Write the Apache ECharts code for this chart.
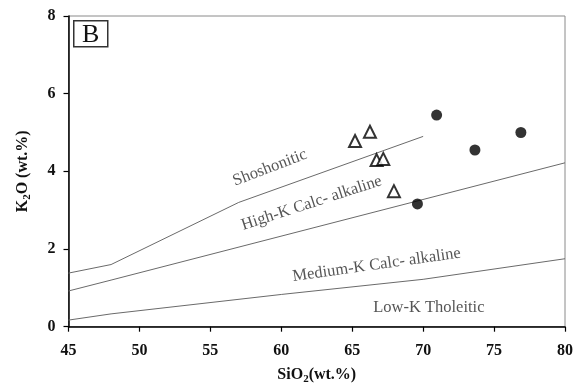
<!DOCTYPE html>
<html>
<head>
<meta charset="utf-8">
<script src="https://cdn.jsdelivr.net/npm/echarts@6/dist/echarts.min.js"></script>
<style>html,body{margin:0;padding:0;background:#fff;}#c{width:573px;height:386px;}</style>
</head>
<body>
<div id="c"></div>
<script>
// Data
var xTicks = [45, 50, 55, 60, 65, 70, 75, 80];
var yTicks = [0, 2, 4, 6, 8];
var shoshoniticLine = [[45, 1.38], [48, 1.6], [57, 3.2], [70, 4.9]];
var highKLine = [[45, 0.92], [48, 1.2], [80, 4.22]];
var mediumKLine = [[45, 0.17], [48, 0.33], [60, 0.83], [70, 1.22], [80, 1.75]];
var triangles = [[65.2, 4.78], [66.25, 5.02], [66.72, 4.29], [67.19, 4.32], [67.94, 3.49]];
var circles = [[70.95, 5.45], [73.65, 4.55], [76.89, 5.0], [69.6, 3.16]];
var regionNames = ['Shoshonitic', 'High-K Calc- alkaline', 'Medium-K Calc- alkaline', 'Low-K Tholeitic'];
var regionAnchors = [[59.2, 4.09], [62.14, 3.18], [66.72, 1.59], [70.4, 0.48]];
var regionRotate = [21, 18, 8, 0];

var serif = '"Liberation Serif", "Times New Roman", serif';
var chart = echarts.init(document.getElementById('c'));

function lineSeries(d) {
  return {type: 'line', data: d, symbol: 'none', silent: true,
    lineStyle: {color: '#6a6a6a', width: 1}, z: 2};
}

var labelSeries = regionNames.map(function (n, i) {
  return {
    type: 'scatter', symbolSize: 0, silent: true, z: 3,
    data: [{value: regionAnchors[i], name: n}],
    label: {show: true, position: 'inside', formatter: n, rotate: regionRotate[i],
      fontFamily: serif, fontSize: 16.5, color: '#2a2a2a'}
  };
});

var nameRich = {
  b: {fontFamily: serif, fontWeight: 'bold', fontSize: 16, color: '#111', lineHeight: 20},
  s: {fontFamily: serif, fontWeight: 'bold', fontSize: 11, color: '#111', lineHeight: 10, verticalAlign: 'bottom'}
};

chart.setOption({
  animation: false,
  grid: {left: 68.5, right: 8, top: 16, bottom: 59.3, show: true, borderColor: '#8a8a8a', borderWidth: 1,
    containLabel: false, outerBoundsMode: 'none'},
  xAxis: {
    type: 'value', min: 45, max: 80, interval: 5,
    name: '{b|SiO}{s|2}{b|(wt.%)}', nameLocation: 'middle', nameGap: 38,
    nameTextStyle: {rich: nameRich},
    axisLine: {lineStyle: {color: '#000', width: 1.5}},
    axisTick: {show: true, inside: false, length: 5, lineStyle: {color: '#000', width: 1.2}},
    axisLabel: {fontFamily: serif, fontWeight: 'bold', fontSize: 16, color: '#111', margin: 16,
      hideOverlap: false, showMinLabel: true, showMaxLabel: true},
    splitLine: {show: false}
  },
  yAxis: {
    type: 'value', min: 0, max: 8, interval: 2,
    name: '{b|K}{s|2}{b|O (wt.%)}', nameLocation: 'middle', nameGap: 36,
    nameTextStyle: {rich: nameRich},
    axisLine: {show: true, lineStyle: {color: '#000', width: 1.5}},
    axisTick: {show: true, inside: false, length: 5, lineStyle: {color: '#000', width: 1.2}},
    axisLabel: {fontFamily: serif, fontWeight: 'bold', fontSize: 16, color: '#111', margin: 13},
    splitLine: {show: false}
  },
  graphic: [{
    type: 'group', left: 73, top: 20,
    children: [
      {type: 'rect', shape: {x: 0, y: 0, width: 34, height: 26},
        style: {fill: '#fff', stroke: '#333', lineWidth: 1.5}},
      {type: 'text', x: 17, y: 14, style: {text: 'B', fontFamily: serif, fontSize: 26,
        fill: '#111', align: 'center', verticalAlign: 'middle'}}
    ]
  }],
  series: [
    lineSeries(shoshoniticLine),
    lineSeries(highKLine),
    lineSeries(mediumKLine),
    {type: 'scatter', data: triangles, symbol: 'triangle', symbolSize: 12, z: 5,
      itemStyle: {color: '#fff', borderColor: '#000', borderWidth: 2}},
    {type: 'scatter', data: circles, symbol: 'circle', symbolSize: 11, z: 5,
      itemStyle: {color: '#000'}}
  ].concat(labelSeries)
});
</script>
</body>
</html>
